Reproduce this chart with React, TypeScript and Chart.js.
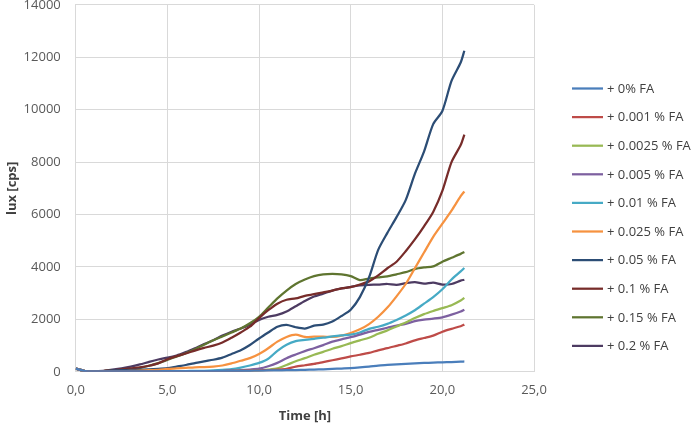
import React, { useEffect, useRef } from "react";
import { Chart, registerables } from "chart.js";

Chart.register(...registerables);

// Time axis (hours)
const TIME = [0, 0.5, 1, 1.5, 2, 2.5, 3, 3.5, 4, 4.5, 5, 5.5, 6, 6.5, 7, 7.5, 8, 8.5, 9, 9.5, 10, 10.5, 11, 11.5, 12, 12.5, 13, 13.5, 14, 14.5, 15, 15.5, 16, 16.5, 17, 17.5, 18, 18.5, 19, 19.5, 20, 20.5, 21, 21.2];

const FA_0 = [120, 30, 15, 15, 15, 15, 20, 20, 20, 20, 25, 25, 25, 30, 30, 30, 35, 35, 40, 40, 45, 50, 55, 60, 65, 75, 85, 95, 110, 125, 140, 165, 195, 235, 260, 285, 305, 325, 340, 350, 360, 370, 385, 395];
const FA_0001 = [120, 30, 15, 15, 15, 15, 20, 20, 20, 20, 25, 25, 25, 30, 30, 30, 30, 35, 40, 45, 55, 65, 80, 110, 200, 250, 300, 370, 440, 510, 585, 650, 720, 820, 900, 990, 1080, 1200, 1290, 1380, 1530, 1640, 1740, 1800];
const FA_00025 = [120, 30, 15, 15, 15, 15, 20, 20, 20, 20, 25, 25, 25, 25, 30, 30, 30, 30, 35, 40, 50, 80, 130, 260, 400, 520, 650, 760, 880, 980, 1095, 1200, 1300, 1450, 1580, 1730, 1880, 2050, 2200, 2320, 2430, 2540, 2720, 2820];
const FA_0005 = [120, 30, 15, 15, 15, 15, 20, 20, 20, 20, 25, 25, 25, 25, 30, 30, 30, 45, 60, 85, 120, 210, 340, 520, 660, 790, 900, 1020, 1150, 1240, 1320, 1420, 1520, 1600, 1680, 1760, 1830, 1930, 1990, 2030, 2080, 2180, 2300, 2370];
const FA_001 = [120, 30, 15, 15, 15, 15, 20, 20, 20, 25, 25, 30, 30, 35, 40, 50, 70, 100, 160, 240, 340, 500, 800, 1030, 1170, 1220, 1260, 1300, 1350, 1390, 1420, 1500, 1640, 1720, 1830, 1980, 2150, 2350, 2600, 2850, 3150, 3520, 3830, 3960];
const FA_0025 = [120, 30, 15, 15, 20, 25, 35, 45, 60, 70, 110, 130, 150, 170, 180, 200, 240, 320, 420, 520, 680, 900, 1150, 1330, 1420, 1330, 1340, 1340, 1330, 1380, 1480, 1620, 1820, 2100, 2450, 2880, 3350, 3950, 4550, 5150, 5650, 6150, 6700, 6880];
const FA_005 = [120, 30, 20, 30, 50, 60, 70, 80, 90, 110, 140, 200, 260, 330, 400, 460, 540, 680, 820, 1020, 1270, 1500, 1720, 1790, 1700, 1650, 1760, 1800, 1920, 2130, 2370, 2850, 3600, 4650, 5300, 5900, 6550, 7550, 8400, 9450, 9950, 11100, 11800, 12250];
const FA_01 = [120, 30, 20, 30, 60, 90, 130, 170, 230, 320, 480, 600, 700, 810, 910, 1000, 1120, 1300, 1500, 1720, 2050, 2350, 2600, 2750, 2800, 2900, 2960, 3030, 3100, 3180, 3230, 3330, 3450, 3680, 3950, 4200, 4600, 5050, 5550, 6100, 6900, 8000, 8650, 9050];
const FA_015 = [120, 30, 20, 30, 50, 70, 100, 150, 230, 330, 450, 580, 710, 860, 1030, 1200, 1350, 1500, 1650, 1850, 2100, 2450, 2800, 3100, 3350, 3520, 3650, 3720, 3740, 3720, 3650, 3500, 3560, 3600, 3640, 3720, 3800, 3920, 3980, 4020, 4200, 4350, 4500, 4570];
const FA_02 = [120, 30, 20, 40, 80, 130, 200, 280, 380, 470, 540, 620, 750, 900, 1060, 1200, 1380, 1530, 1650, 1800, 1980, 2100, 2170, 2300, 2500, 2700, 2870, 2980, 3100, 3180, 3240, 3300, 3320, 3330, 3350, 3320, 3380, 3420, 3360, 3400, 3330, 3350, 3480, 3510];

const SERIES_LABELS = ["+ 0% FA", "+ 0.001 % FA", "+ 0.0025 % FA", "+ 0.005 % FA", "+ 0.01 % FA", "+ 0.025 % FA", "+ 0.05 % FA", "+ 0.1 % FA", "+ 0.15 % FA", "+ 0.2 % FA"];
const SERIES_VALUES = [FA_0, FA_0001, FA_00025, FA_0005, FA_001, FA_0025, FA_005, FA_01, FA_015, FA_02];
const SERIES_COLORS = ["#4A7EBB", "#BE4B48", "#98B954", "#7D60A0", "#46AAC5", "#F69240", "#2C4D75", "#772C2A", "#5F7530", "#4D3B62"];

const X_TITLE = "Time [h]";
const Y_TITLE = "lux [cps]";

const FONT = "'Open Sans', 'Noto Sans', sans-serif";

const sideLegend = {
  id: "sideLegend",
  afterDraw(chart: any) {
    const ctx = chart.ctx;
    ctx.save();
    ctx.font = `13px ${FONT}`;
    ctx.textBaseline = "middle";
    ctx.textAlign = "left";
    chart.data.datasets.forEach((ds: any, i: number) => {
      const y = 88.5 + i * 28.6;
      ctx.strokeStyle = ds.borderColor;
      ctx.lineWidth = 2.25;
      ctx.beginPath();
      ctx.moveTo(572, y);
      ctx.lineTo(603, y);
      ctx.stroke();
      ctx.fillStyle = "#404040";
      ctx.fillText(ds.label, 607, y + 0.5);
    });
    ctx.restore();
  },
};

export default function App() {
  const ref = useRef<HTMLCanvasElement | null>(null);

  useEffect(() => {
    if (!ref.current) return;
    const datasets = SERIES_LABELS.map((label, i) => ({
      label,
      data: TIME.map((t, j) => ({ x: t, y: SERIES_VALUES[i][j] })),
      borderColor: SERIES_COLORS[i],
      backgroundColor: SERIES_COLORS[i],
      borderWidth: 2.25,
      pointRadius: 0,
      tension: 0.25,
      fill: false,
    }));
    const chart = new Chart(ref.current, {
      type: "line",
      data: { datasets },
      plugins: [sideLegend],
      options: {
        animation: false,
        responsive: false,
        devicePixelRatio: 1,
        layout: { padding: { left: 0, right: 162, top: 0, bottom: 1 } },
        plugins: {
          legend: { display: false },
          tooltip: { enabled: false },
        },
        scales: {
          x: {
            type: "linear",
            min: 0,
            max: 25,
            grid: { color: "#D9D9D9", drawTicks: true, tickLength: 11, tickColor: "rgba(0,0,0,0)", lineWidth: 1 },
            border: { color: "#D9D9D9" },
            ticks: {
              stepSize: 5,
              padding: 0,
              color: "#595959",
              font: { family: FONT, size: 13 },
              callback: (v: any) => Number(v).toFixed(1).replace(".", ","),
            },
            title: {
              display: true,
              text: X_TITLE,
              color: "#404040",
              font: { family: FONT, size: 13, weight: "bold" },
              padding: { top: 10, bottom: 0 },
            },
          },
          y: {
            min: 0,
            max: 14000,
            grid: { color: "#D9D9D9", drawTicks: true, tickLength: 15, tickColor: "rgba(0,0,0,0)", lineWidth: 1 },
            border: { color: "#D9D9D9" },
            ticks: {
              stepSize: 2000,
              padding: 0,
              color: "#595959",
              font: { family: FONT, size: 13, lineHeight: 0.75 },
              callback: (v: any) => String(v),
            },
            title: {
              display: true,
              text: Y_TITLE,
              color: "#404040",
              font: { family: FONT, size: 13, weight: "bold" },
              padding: { top: 4, bottom: 4 },
            },
          },
        },
      },
    });
    return () => chart.destroy();
  }, []);

  return (
    <div style={{ position: "fixed", left: 0, top: 0, width: 696, height: 425, background: "#fff" }}>
      <canvas ref={ref} width={696} height={425} style={{ display: "block" }} />
    </div>
  );
}
